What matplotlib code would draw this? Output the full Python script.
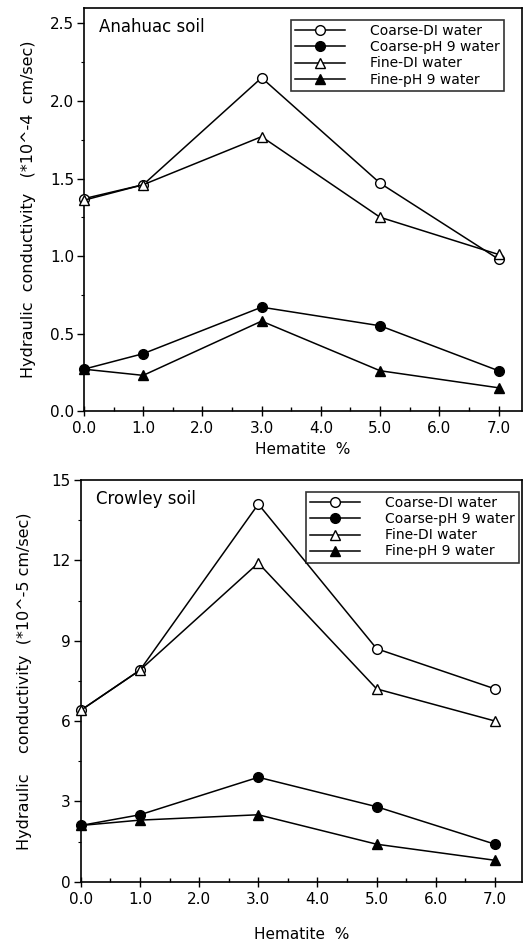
import matplotlib.pyplot as plt
from matplotlib.ticker import MultipleLocator, FormatStrFormatter

hematite = [0.0, 1.0, 3.0, 5.0, 7.0]
labels = ["Coarse-DI water", "Coarse-pH 9 water", "Fine-DI water", "Fine-pH 9 water"]

# Anahuac soil (*10^-4 cm/sec)
anahuac_coarse_di = [1.37, 1.46, 2.15, 1.47, 0.98]
anahuac_coarse_ph9 = [0.27, 0.37, 0.67, 0.55, 0.26]
anahuac_fine_di = [1.36, 1.46, 1.77, 1.25, 1.01]
anahuac_fine_ph9 = [0.27, 0.23, 0.58, 0.26, 0.15]

# Crowley soil (*10^-5 cm/sec)
crowley_coarse_di = [6.4, 7.9, 14.1, 8.7, 7.2]
crowley_coarse_ph9 = [2.1, 2.5, 3.9, 2.8, 1.4]
crowley_fine_di = [6.4, 7.9, 11.9, 7.2, 6.0]
crowley_fine_ph9 = [2.1, 2.3, 2.5, 1.4, 0.8]

markers = [("o", "white"), ("o", "black"), ("^", "white"), ("^", "black")]

plt.rcParams['font.family'] = ['DejaVu Sans']
fig = plt.figure(figsize=(5.28, 9.41), dpi=100)

ax1 = fig.add_axes([0.159, 0.5632, 0.830, 0.4283])
ax2 = fig.add_axes([0.153, 0.0630, 0.835, 0.4269])


def draw(ax, series, ylim, ymajor, yminor, yfmt, xmax, title, ylabel, legend_box,
         xpad, ypad):
    for vals, (m, fc), lab in zip(series, markers, labels):
        ax.plot(hematite, vals, color="black", linewidth=1.1, marker=m,
                markersize=7, markerfacecolor=fc, markeredgecolor="black",
                markeredgewidth=1.0, label=lab, clip_on=False, zorder=3)
    ax.set_xlim(0, xmax)
    ax.set_ylim(*ylim)
    ax.xaxis.set_minor_locator(MultipleLocator(0.5))
    ax.xaxis.set_major_formatter(FormatStrFormatter("%.1f"))
    ax.set_xticks([0, 1, 2, 3, 4, 5, 6, 7])
    ax.yaxis.set_major_locator(MultipleLocator(ymajor))
    ax.yaxis.set_minor_locator(MultipleLocator(yminor))
    ax.yaxis.set_major_formatter(FormatStrFormatter(yfmt))
    ax.tick_params(axis="x", which="major", direction="inout", length=7, width=1.0,
                   labelsize=11, pad=4)
    ax.tick_params(axis="x", which="minor", direction="in", length=3, width=1.0)
    ax.tick_params(axis="y", which="major", direction="out", length=5, width=1.0,
                   labelsize=11, pad=2)
    ax.tick_params(axis="y", which="minor", direction="out", length=2, width=0.8)
    for s in ax.spines.values():
        s.set_linewidth(1.2)
    ax.set_xlabel("Hematite  %", fontsize=11, labelpad=xpad)
    ax.set_ylabel(ylabel, fontsize=11.5, labelpad=ypad)
    ax.text(0.035, 0.975, title, transform=ax.transAxes, fontsize=12,
            va="top", ha="left")
    leg = ax.legend(loc="upper left", bbox_to_anchor=legend_box, fontsize=10,
                    frameon=True, fancybox=False, edgecolor="black",
                    handlelength=3.6, handletextpad=1.8, borderpad=0.3,
                    labelspacing=0.15, borderaxespad=0)
    leg.get_frame().set_linewidth(1.2)


draw(ax1, [anahuac_coarse_di, anahuac_coarse_ph9, anahuac_fine_di, anahuac_fine_ph9],
     (0, 2.6), 0.5, 0.25, "%.1f", 7.4, "Anahuac soil",
     "Hydraulic  conductivity   (*10^-4  cm/sec)", (0.472, 0.97), 4, 10)
draw(ax2, [crowley_coarse_di, crowley_coarse_ph9, crowley_fine_di, crowley_fine_ph9],
     (0, 15), 3, 1.5, "%d", 7.45, "Crowley soil",
     "Hydraulic    conductivity  (*10^-5 cm/sec)", (0.51, 0.97), 14, 14)

fig.savefig("out.png", dpi=100)
